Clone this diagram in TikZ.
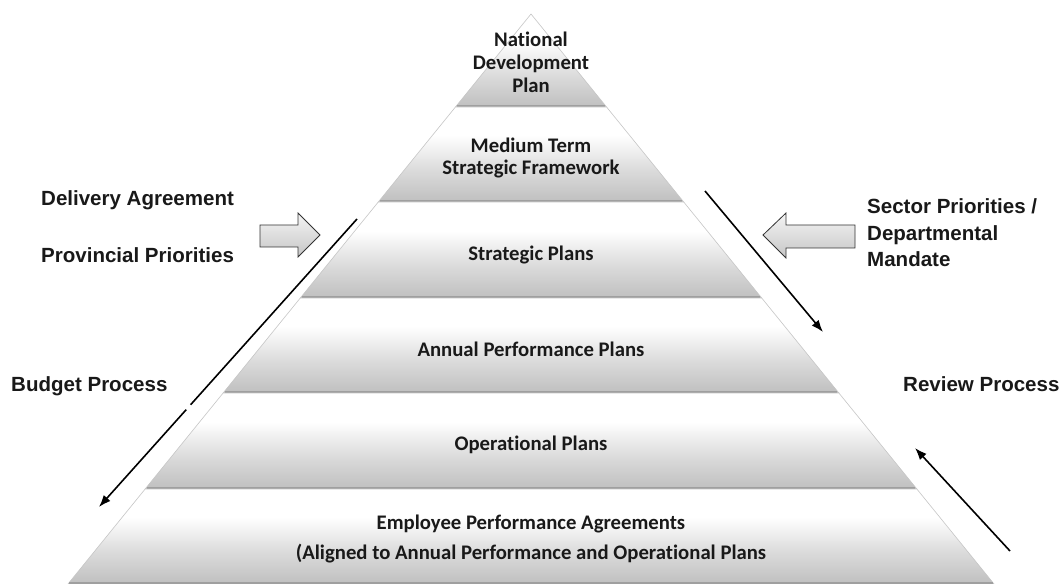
\documentclass[tikz,border=0pt]{standalone}
\usepackage{fontspec}
\newfontfamily\califont[Ligatures=NoCommon]{Carlito}
\newfontfamily\arialfont{Liberation Sans}
\usetikzlibrary{arrows.meta,calc}
\pgfdeclareverticalshading{layershade}{100bp}{color(0bp)=(gray!50); color(25bp)=(gray!50); color(42bp)=(gray!28); color(60bp)=(white); color(75bp)=(white); color(100bp)=(white)}
\newcommand\pyrlayer[2]{%
  \pgfmathsetmacro\hwa{(#1-14)*0.8123}%
  \pgfmathsetmacro\hwb{(#2-14)*0.8123}%
  \shadedraw[shading=layershade, draw=gray!45, line width=0.6bp]
    (531-\hwa,#1) -- (531+\hwa,#1) -- (531+\hwb,#2) -- (531-\hwb,#2) -- cycle;
  \draw[gray!75, line width=1.6bp] (531-\hwb+1.5,#2-1) -- (531+\hwb-1.5,#2-1);
}
\tikzset{
  pyrtext/.style={font=\califont\bfseries\fontsize{20.8}{23}\selectfont, align=center, text=black!90, inner sep=0pt},
  sidetext/.style={font=\arialfont\bfseries\fontsize{20.6}{26.5}\selectfont, align=left, anchor=west, inner sep=0pt, text=black!90},
  blockarrow/.style={top color=gray!8, bottom color=gray!45, draw=gray!40!black, line width=0.8bp},
  procarrow/.style={line width=1.6bp, -{Latex[length=12bp,width=9bp]}}
}
\begin{document}
\begin{tikzpicture}[x=1bp,y=-1bp]
\useasboundingbox (0,0) rectangle (1061,584);
\fill[white] (0,0) rectangle (1061,584);
% pyramid layers
\pyrlayer{14}{107}
\pyrlayer{107}{202}
\pyrlayer{202}{298}
\pyrlayer{298}{393}
\pyrlayer{393}{489}
\pyrlayer{489}{584}
% pyramid texts
\node[pyrtext] (ndp) at (531,62) {National\\Development\\Plan};
\node[pyrtext] (mtsf) at (531,158) {Medium Term\\Strategic Framework};
\node[pyrtext] (sp) at (531,254.5) {Strategic Plans};
\node[pyrtext] (app) at (531,349.5) {Annual Performance Plans};
\node[pyrtext] (op) at (531,444.5) {Operational Plans};
\node[pyrtext, font=\califont\bfseries\fontsize{20.8}{30}\selectfont] (epa) at (531,539) {Employee Performance Agreements\\(Aligned to Annual Performance and Operational Plans};
% side labels
\node[sidetext] (da) at (41,200.5) {Delivery Agreement};
\node[sidetext] (pp) at (41,255.5) {Provincial Priorities};
\node[sidetext] (bp) at (11,386) {Budget Process};
\node[sidetext] (spdm) at (867,233) {Sector Priorities /\\Departmental\\Mandate};
\node[sidetext] (rp) at (903,384.5) {Review Process};
% block arrows
\draw[blockarrow] (260,225) -- (298,225) -- (298,213) -- (320,235) -- (298,257) -- (298,247) -- (260,247) -- cycle;
\draw[blockarrow] (855,225) -- (786,225) -- (786,213) -- (763,235) -- (786,258) -- (786,248) -- (855,248) -- cycle;
% process arrows
\coordinate (bs) at (357,219);
\coordinate (be) at (99,507);
\draw[line width=1.6bp] (bs) -- ($(bs)!0.645!(be)$);
\draw[procarrow] ($(bs)!0.662!(be)$) -- (be);
\coordinate (rs) at (705,191);
\coordinate (re) at (823,332);
\draw[procarrow] (rs) -- (re);
\coordinate (qs) at (1010,551);
\coordinate (qe) at (915,448);
\draw[procarrow] (qs) -- (qe);
\end{tikzpicture}
\end{document}
